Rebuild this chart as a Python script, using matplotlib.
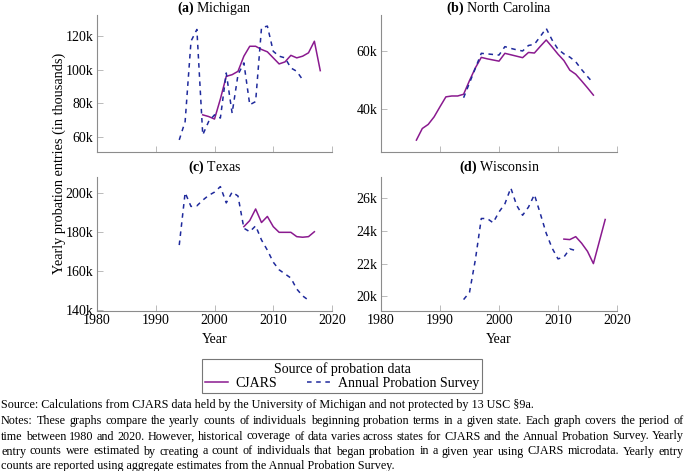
"""Yearly probation entries: CJARS vs Annual Probation Survey, four states."""

import matplotlib

matplotlib.use("Agg")
import matplotlib.pyplot as plt
from matplotlib.lines import Line2D

plt.rcParams["font.family"] = ["Liberation Serif", "DejaVu Serif"]
plt.rcParams["mathtext.fontset"] = "custom"
plt.rcParams["mathtext.rm"] = "Liberation Serif"
plt.rcParams["mathtext.bf"] = "Liberation Serif:bold"

# --- data (thousands of entries) ---
mi_cjars_years = list(range(1998, 2019))
mi_cjars = [73.1, 72.1, 70.6, 82.5, 96.0, 97.0, 99.0, 108.0, 113.9, 113.9, 112.0,
            110.6, 107.0, 103.4, 104.6, 108.5, 107.0, 108.0, 110.0, 116.9, 99.4]
mi_aps_years = list(range(1994, 2016))
mi_aps = [58.2, 69.1, 116.9, 123.9, 61.2, 69.1, 73.1, 71.2, 98.0, 74.1, 97.0,
          104.0, 79.1, 81.0, 124.9, 125.9, 110.9, 108.0, 107.0, 101.0, 99.0, 94.0]

nc_cjars_years = list(range(1986, 2017))
nc_cjars = [29.3, 33.3, 34.7, 37.3, 40.8, 44.2, 44.5, 44.5, 45.1, 49.8, 54.2,
            57.8, 57.3, 56.9, 56.5, 59.2, 58.7, 58.2, 57.7, 59.5, 59.3, 61.6,
            63.8, 61.4, 58.9, 56.7, 53.4, 52.0, 49.7, 47.3, 44.8]
nc_aps_years = list(range(1994, 2017))
nc_aps = [43.9, 49.0, 54.1, 59.2, 59.0, 58.8, 58.6, 61.5, 60.9, 60.4, 60.0, 61.9,
          62.3, 65.0, 67.8, 63.8, 60.6, 59.0, 57.9, 56.3, 53.6, 51.2, 48.9]

tx_cjars_years = list(range(2005, 2018))
tx_cjars = [182.7, 185.8, 191.7, 184.8, 187.9, 182.7, 179.8, 179.8, 179.8,
            177.6, 177.3, 177.6, 180.1]
tx_aps_years = list(range(1994, 2017))
tx_aps = [173.3, 200.0, 193.0, 193.3, 196.2, 198.6, 200.3, 203.1, 194.8, 200.3,
          198.3, 181.9, 180.1, 183.1, 175.9, 170.7, 164.6, 160.7, 158.6, 156.5,
          150.9, 147.4, 145.2]

wi_cjars_years = list(range(2011, 2019))
wi_cjars = [23.50, 23.47, 23.65, 23.25, 22.75, 22.00, 23.35, 24.70]
wi_aps_years = list(range(1994, 2014))
wi_aps = [19.80, 20.24, 22.25, 24.76, 24.76, 24.50, 25.16, 25.66, 26.63, 25.56,
          24.96, 25.46, 26.22, 25.06, 23.86, 22.95, 22.29, 22.40, 22.90, 22.80]

panel_tags = ["(a)", "(b)", "(c)", "(d)"]
panel_names = ["Michigan", "North Carolina", "Texas", "Wisconsin"]
panel_yticks = [[60, 80, 100, 120], [40, 60], [140, 160, 180, 200], [20, 22, 24, 26]]
panel_ylims = [(51, 132.5), (25.2, 72.4), (139.7, 208), (19.1, 27.3)]
x_ticks = [1980, 1990, 2000, 2010, 2020]

legend_labels = ["CJARS", "Annual Probation Survey"]
legend_title = "Source of probation data"

notes_lines = [
    "Source: Calculations from CJARS data held by the University of Michigan and not protected by 13 USC §9a.",
    "Notes: These graphs compare the yearly counts of individuals beginning probation terms in a given state. Each graph covers the period of",
    "time between 1980 and 2020. However, historical coverage of data varies across states for CJARS and the Annual Probation Survey. Yearly",
    "entry counts were estimated by creating a count of individuals that began probation in a given year using CJARS microdata. Yearly entry",
    "counts are reported using aggregate estimates from the Annual Probation Survey.",
]

CJARS_COLOR = "#8a1a8f"
APS_COLOR = "#1f2a9c"
AXIS_COLOR = "#8c8c8c"

W, H = 685, 471


def justified_line(fig, text, y, x0, x1, **kw):
    """Place words so the line fills [x0, x1] (pixel coords)."""
    words = text.split()
    items = [fig.text(0, y, w, va="center", ha="left", **kw) for w in words]
    renderer = fig.canvas.get_renderer()
    widths = [t.get_window_extent(renderer).width for t in items]
    gap = ((x1 - x0) - sum(widths)) / (len(words) - 1)
    x = x0
    for t, w in zip(items, widths):
        t.set_x(x / W)
        x += w + gap


fig = plt.figure(figsize=(W / 100, H / 100), dpi=100)

# axes boxes in pixels: left, top, right, bottom
boxes = [(97, 15, 332, 152), (381, 15, 617, 152), (97, 177, 332, 311), (381, 177, 617, 311)]
title_ys = [8.5, 8.5, 167, 167]
series = [
    (mi_cjars_years, mi_cjars, mi_aps_years, mi_aps),
    (nc_cjars_years, nc_cjars, nc_aps_years, nc_aps),
    (tx_cjars_years, tx_cjars, tx_aps_years, tx_aps),
    (wi_cjars_years, wi_cjars, wi_aps_years, wi_aps),
]

for i, (l, t, r, b) in enumerate(boxes):
    ax = fig.add_axes([l / W, 1 - b / H, (r - l) / W, (b - t) / H])
    cy, cv, ay, av = series[i]
    ax.plot(cy, cv, color=CJARS_COLOR, lw=1.1)
    ax.plot(ay, av, color=APS_COLOR, lw=1.1, linestyle=(0, (3, 3)))
    ax.set_xlim(1980, 2020)
    ax.set_ylim(*panel_ylims[i])
    ax.set_xticks(x_ticks)
    ax.set_yticks(panel_yticks[i])
    ax.set_yticklabels([f"{v}k" for v in panel_yticks[i]])
    for side in ("top", "right"):
        ax.spines[side].set_visible(False)
    for side in ("left", "bottom"):
        ax.spines[side].set_color(AXIS_COLOR)
        ax.spines[side].set_linewidth(0.8)
    ax.tick_params(direction="in", length=4, width=0.6, color="#b0b0b0",
                   labelsize=10, pad=2.5)
    if i < 2:
        ax.set_xticklabels([])
    else:
        ax.set_xlabel("Year", fontsize=10, labelpad=4)
    fig.text((l + r) / 2 / W, 1 - title_ys[i] / H,
             rf"$\mathbf{{{panel_tags[i]}}}$ {panel_names[i]}",
             ha="center", va="center", fontsize=10)

fig.text(59 / W, 1 - 163 / H, "Yearly probation entries (in thousands)",
         rotation=90, ha="center", va="center", fontsize=10.3)

handles = [Line2D([], [], color=CJARS_COLOR, lw=1.1),
           Line2D([], [], color=APS_COLOR, lw=1.1, linestyle=(0, (3, 3)))]
leg = fig.legend(handles, legend_labels, title=legend_title, ncol=2,
                 loc="center", bbox_to_anchor=(342 / W, 1 - 376 / H),
                 fontsize=10, title_fontsize=10, frameon=True, fancybox=False,
                 handlelength=1.7, handletextpad=0.5, columnspacing=2.2,
                 borderpad=0.2, labelspacing=0.1, borderaxespad=0)
leg.get_frame().set_edgecolor("#555555")
leg.get_frame().set_linewidth(0.8)

note_ys = [405, 421, 436.5, 451.5, 466]
for k, line in enumerate(notes_lines):
    if k in (1, 2, 3):
        justified_line(fig, line, 1 - note_ys[k] / H, 1, 684, fontsize=8.7)
    else:
        fig.text(1 / W, 1 - note_ys[k] / H, line, va="center", ha="left", fontsize=8.7)

fig.savefig("out.png", dpi=100)
